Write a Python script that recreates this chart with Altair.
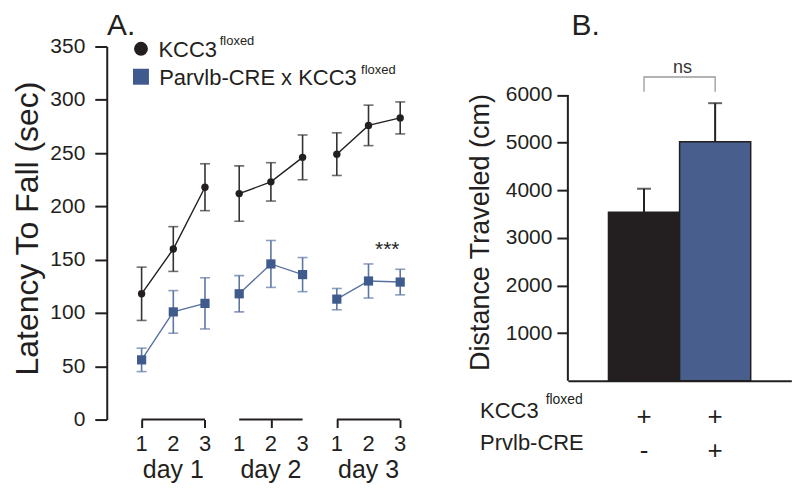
import altair as alt
import pandas as pd

FONT = "Liberation Sans"
INK = "#231f20"
BLUE = "#3f5a8c"
BLUE_LINE = "#5872a0"
BLUE_ERR = "#5d76a3"
BLUE_BAR = "#485f8e"
GRAY = "#9a9a9a"

# ---------------- data: panel A ----------------
groups = ["KCC3", "Parvlb-CRE x KCC3"]
days = [1, 1, 1, 2, 2, 2, 3, 3, 3]
trials = [1, 2, 3, 1, 2, 3, 1, 2, 3]
kcc3_mean = [118, 160, 218, 212, 223, 246, 249, 276, 283]
kcc3_sem = [25, 21, 22, 26, 18, 21, 20, 19, 15]
cre_mean = [56, 101, 109, 118, 146, 136, 113, 130, 129]
cre_sem = [11, 20, 24, 17, 22, 16, 10, 16, 12]
day_labels = ["day 1", "day 2", "day 3"]
y_ticks_a = [0, 50, 100, 150, 200, 250, 300, 350]
sig_label = "***"

# ---------------- data: panel B ----------------
bar_groups = ["KCC3floxed", "Prvlb-CRE x KCC3floxed"]
dist_mean = [3535, 5017]
dist_sem = [496, 811]
row_kcc3 = ["+", "+"]
row_cre = ["-", "+"]
y_ticks_b = [1000, 2000, 3000, 4000, 5000, 6000]

# ---------------- layout sizes ----------------
WA, HA = 305, 374
WB, HB = 224, 335


def position(day, trial):
    return trial + (day - 1) * 3.08 + 0.1


rows = []
for g, means, sems, lc, ec in [
    (groups[0], kcc3_mean, kcc3_sem, INK, "#333333"),
    (groups[1], cre_mean, cre_sem, BLUE_LINE, BLUE_ERR),
]:
    for d, t, m, s in zip(days, trials, means, sems):
        rows.append(dict(group=g, day=d, trial=t, pos=position(d, t), mean=m,
                         lo=m - s, hi=m + s, key=f"{g}-{d}", lcol=lc, ecol=ec))
df = pd.DataFrame(rows)
positions = [position(d, t) for d, t in zip(days, trials)]
trial_df = pd.DataFrame({"pos": positions, "trial": [str(t) for t in trials]})
day_df = pd.DataFrame({
    "day": day_labels,
    "x1": [position(d, 1) for d in (1, 2, 3)],
    "x2": [position(d, 3) for d in (1, 2, 3)],
    "xc": [position(d, 2) for d in (1, 2, 3)],
})

xs = alt.Scale(domain=[0, 9.6], nice=False)
ys = alt.Scale(domain=[0, 350], nice=False)
one = pd.DataFrame({"t": ["x"]})

base = alt.Chart(df)

x_axis = alt.Axis(values=positions, labels=False, ticks=True, tickSize=8, tickWidth=2,
                  tickColor=INK, domain=False, grid=False, title=None)
y_axis = alt.Axis(values=y_ticks_a, title="Latency To Fall (sec)", titleFontSize=32,
                  titleFontWeight="normal", titleColor=INK, titlePadding=5, titleY=182,
                  labelFontSize=21, labelColor=INK, labelPadding=10, tickSize=12,
                  tickWidth=2, tickColor=INK, domainWidth=2, domainColor=INK, grid=False)


def XA(field):
    return alt.X(field, scale=xs, axis=x_axis)


def YA(field):
    return alt.Y(field, scale=ys, axis=y_axis)


lines = base.mark_line(strokeWidth=1.4).encode(
    x=XA("pos:Q"), y=YA("mean:Q"),
    color=alt.Color("lcol:N", scale=None),
    detail="key:N",
)
err = base.mark_rule(strokeWidth=1.6).encode(
    x=XA("pos:Q"), y=YA("lo:Q"), y2="hi:Q",
    color=alt.Color("ecol:N", scale=None),
)
caps = base.transform_fold(["lo", "hi"], as_=["end", "val"]).mark_tick(
    orient="horizontal", size=10, thickness=1.6
).encode(
    x=XA("pos:Q"), y=YA("val:Q"),
    color=alt.Color("ecol:N", scale=None),
)
points = base.mark_point(filled=True, opacity=1, strokeWidth=0).encode(
    x=XA("pos:Q"), y=YA("mean:Q"),
    color=alt.Color("group:N", scale=alt.Scale(domain=groups, range=[INK, BLUE]), legend=None),
    shape=alt.Shape("group:N", scale=alt.Scale(domain=groups, range=["circle", "square"]), legend=None),
    size=alt.Size("group:N", scale=alt.Scale(domain=groups, range=[55, 85]), legend=None),
)
brackets = alt.Chart(day_df).mark_rule(strokeWidth=2, color=INK).encode(
    x=XA("x1:Q"), x2="x2:Q", y=alt.datum(0)
)
trial_txt = alt.Chart(trial_df).mark_text(fontSize=22, color=INK, baseline="alphabetic").encode(
    x=XA("pos:Q"), y=alt.value(HA + 32), text="trial:N"
)
day_txt = alt.Chart(day_df).mark_text(fontSize=25, color=INK, baseline="alphabetic").encode(
    x=XA("xc:Q"), y=alt.value(HA + 58.5), text="day:N"
)
sig = alt.Chart(one).mark_text(text=sig_label, fontSize=21, color=INK, baseline="alphabetic").encode(
    x=alt.datum(8.85), y=alt.datum(153)
)

# legend (drawn by hand so that the superscripts sit next to the labels)
leg_c = alt.Chart(one).mark_point(shape="circle", filled=True, size=194, color=INK,
                                  opacity=1, strokeWidth=0).encode(x=alt.value(34.3), y=alt.value(2.3))
leg_s = alt.Chart(one).mark_point(shape="square", filled=True, size=256, color=BLUE,
                                  opacity=1, strokeWidth=0).encode(x=alt.value(34.3), y=alt.value(30.3))
leg_t1 = alt.Chart(one).mark_text(text=groups[0], fontSize=22, color=INK, align="left",
                                  baseline="alphabetic").encode(x=alt.value(51.8), y=alt.value(10.3))
leg_t2 = alt.Chart(one).mark_text(text=groups[1], fontSize=22, color=INK, align="left",
                                  baseline="alphabetic").encode(x=alt.value(52.6), y=alt.value(38.6))
sup1 = alt.Chart(one).mark_text(text="floxed", fontSize=13, color=INK, align="left",
                                baseline="alphabetic").encode(x=alt.value(113.3), y=alt.value(-1.4))
sup2 = alt.Chart(one).mark_text(text="floxed", fontSize=13, color=INK, align="left",
                                baseline="alphabetic").encode(x=alt.value(255), y=alt.value(28))
label_a = alt.Chart(one).mark_text(text="A.", fontSize=30, color=INK, align="left",
                                   baseline="alphabetic").encode(x=alt.value(0.3), y=alt.value(-12))

panel_a = alt.layer(lines, err, caps, points, brackets, trial_txt, day_txt, sig,
                    leg_c, leg_s, leg_t1, leg_t2, sup1, sup2, label_a).properties(width=WA, height=HA)

# ---------------- panel B ----------------
bdf = pd.DataFrame({"group": bar_groups, "mean": dist_mean,
                    "hi": [m + s for m, s in zip(dist_mean, dist_sem)],
                    "fill": [INK, BLUE_BAR], "r1": row_kcc3, "r2": row_cre})
bx = alt.Scale(domain=bar_groups, paddingInner=0, paddingOuter=0.571)
by = alt.Scale(domain=[0, 7018], nice=False)
bx_axis = alt.Axis(labels=False, ticks=False, title=None, domainWidth=2, domainColor=INK, grid=False)
by_axis = alt.Axis(values=y_ticks_b, format="d", domain=False, title="Distance Traveled (cm)",
                   titleFontSize=27, titleFontWeight="normal", titleColor=INK,
                   titlePadding=11, titleY=186, labelFontSize=21, labelColor=INK,
                   labelPadding=5, tickSize=11, tickWidth=2, tickColor=INK, grid=False)


def XB(field):
    return alt.X(field, scale=bx, axis=bx_axis)


def YB(field):
    return alt.Y(field, scale=by, axis=by_axis)


bars = alt.Chart(bdf).mark_bar(stroke=INK, strokeWidth=1.5).encode(
    x=XB("group:N"), y=YB("mean:Q"),
    fill=alt.Fill("fill:N", scale=None),
)
berr = alt.Chart(bdf).mark_rule(strokeWidth=2, color=INK).encode(
    x=XB("group:N"), y=YB("mean:Q"), y2="hi:Q",
)
bcap = alt.Chart(bdf).mark_tick(orient="horizontal", size=14, thickness=2, color=INK).encode(
    x=XB("group:N"), y=YB("hi:Q"),
)
ydom = alt.Chart(one).mark_rule(strokeWidth=2, color=INK).encode(
    x=alt.value(0), y=alt.datum(0), y2=alt.datum(6000)
)
ns_df = pd.DataFrame({"group": [bar_groups[0], bar_groups[0], bar_groups[1], bar_groups[1]],
                      "v": [6070, 6378, 6378, 6070], "o": [0, 1, 2, 3]})
ns_line = alt.Chart(ns_df).mark_line(color=GRAY, strokeWidth=1.3).encode(
    x=XB("group:N"), y=YB("v:Q"), order="o:Q",
)
ns_txt = alt.Chart(one).mark_text(text="ns", fontSize=18, color="#333333",
                                  baseline="alphabetic").encode(x=alt.value(115), y=alt.datum(6468))
r1_lab = alt.Chart(one).mark_text(text="KCC3", fontSize=22, color=INK, align="left",
                                  baseline="alphabetic").encode(x=alt.value(-88), y=alt.value(372))
r1_sup = alt.Chart(one).mark_text(text="floxed", fontSize=14, color=INK, align="left",
                                  baseline="alphabetic").encode(x=alt.value(-22.3), y=alt.value(358.3))
r2_lab = alt.Chart(one).mark_text(text="Prvlb-CRE", fontSize=22, color=INK, align="left",
                                  baseline="alphabetic").encode(x=alt.value(-88), y=alt.value(404.6))
r1_signs = alt.Chart(bdf).mark_text(fontSize=26, color=INK, baseline="alphabetic").encode(
    x=XB("group:N"), y=alt.value(379.7), text="r1:N"
)
r2_signs = alt.Chart(bdf).mark_text(fontSize=26, color=INK, baseline="alphabetic").encode(
    x=XB("group:N"), y=alt.value(414), text="r2:N"
)
label_b = alt.Chart(one).mark_text(text="B.", fontSize=30, color=INK, align="left",
                                   baseline="alphabetic").encode(x=alt.value(3.7), y=alt.value(-12))

panel_b = alt.layer(bars, berr, bcap, ydom, ns_line, ns_txt, r1_lab, r1_sup, r2_lab,
                    r1_signs, r2_signs, label_b).properties(width=WB, height=HB)

chart = alt.hconcat(panel_a, panel_b, spacing=157.3, bounds="flush").properties(
    padding={"left": 3, "top": 2, "right": 0, "bottom": 0}
).configure(font=FONT).configure_view(stroke=None)

chart.save("out.html", embed_options={"renderer": "svg", "actions": False})
